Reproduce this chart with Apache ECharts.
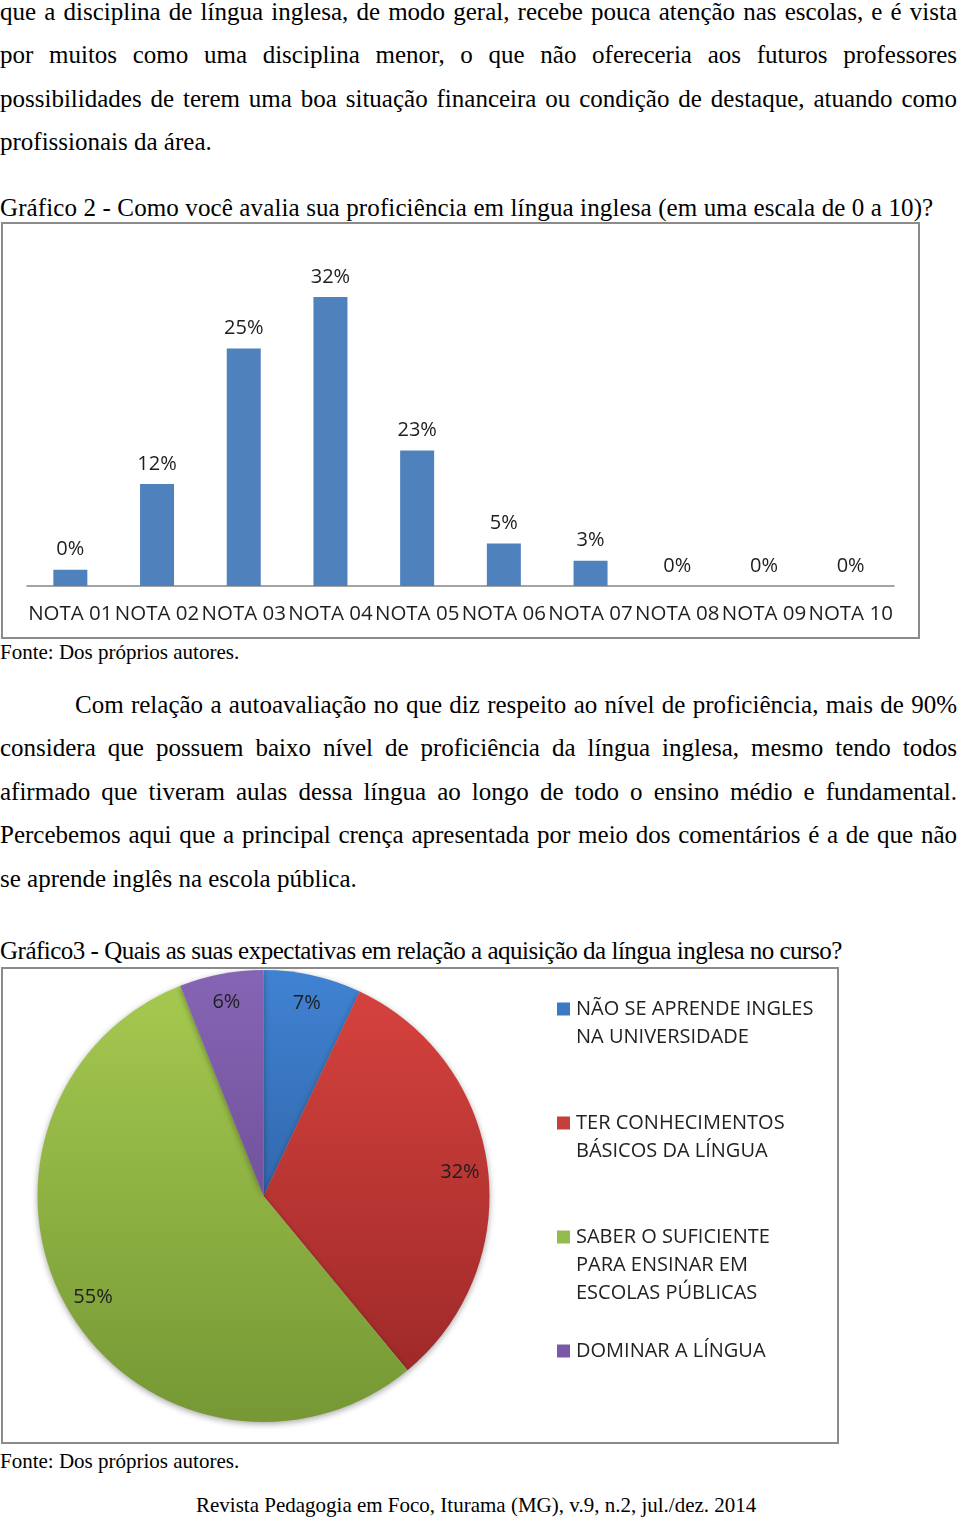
<!DOCTYPE html>
<html>
<head>
<meta charset="utf-8">
<script src="https://cdn.jsdelivr.net/npm/echarts@6/dist/echarts.min.js"></script>
<style>
html,body{margin:0;padding:0;background:#fff;}
#page{position:relative;width:960px;height:1519px;overflow:hidden;font-family:"Liberation Serif","Times New Roman","DejaVu Serif",serif;color:#000;}
.ln{position:absolute;left:0;white-space:nowrap;font-size:25px;line-height:25px;}
.j{width:957px;text-align:justify;text-align-last:justify;}
.sm{font-size:21px;line-height:21px;}
.box{position:absolute;border:2px solid #8b8b8b;box-sizing:border-box;background:#fff;}
.box > div{width:100%;height:100%;}
</style>
</head>
<body>
<div id="page">
  <div class="ln j" style="top:-1px">que a disciplina de língua inglesa, de modo geral, recebe pouca atenção nas escolas, e é vista</div>
  <div class="ln j" style="top:42px">por muitos como uma disciplina menor, o que não ofereceria aos futuros professores</div>
  <div class="ln j" style="top:86px">possibilidades de terem uma boa situação financeira ou condição de destaque, atuando como</div>
  <div class="ln" style="top:129px">profissionais da área.</div>

  <div class="ln" style="top:195px;letter-spacing:0.12px">Gráfico 2 - Como você avalia sua proficiência em língua inglesa (em uma escala de 0 a 10)?</div>
  <div class="box" style="left:1px;top:222px;width:919px;height:417px;"><div id="bar"></div></div>
  <div class="ln sm" style="top:642px">Fonte: Dos próprios autores.</div>

  <div class="ln j" style="top:692px;left:75px;width:882px;">Com relação a autoavaliação no que diz respeito ao nível de proficiência, mais de 90%</div>
  <div class="ln j" style="top:735px">considera que possuem baixo nível de proficiência da língua inglesa, mesmo tendo todos</div>
  <div class="ln j" style="top:779px">afirmado que tiveram aulas dessa língua ao longo de todo o ensino médio e fundamental.</div>
  <div class="ln j" style="top:822px">Percebemos aqui que a principal crença apresentada por meio dos comentários é a de que não</div>
  <div class="ln" style="top:866px">se aprende inglês na escola pública.</div>

  <div class="ln" style="top:938px;letter-spacing:-0.5px">Gráfico3 - Quais as suas expectativas em relação a aquisição da língua inglesa no curso?</div>
  <div class="box" style="left:1px;top:967px;width:838px;height:477px;"><div id="pie"></div></div>
  <div class="ln sm" style="top:1451px">Fonte: Dos próprios autores.</div>

  <div class="ln sm" style="top:1495px;left:196px">Revista Pedagogia em Foco, Iturama (MG), v.9, n.2, jul./dez. 2014</div>
</div>

<script>
// ---- Gráfico 2 data ----
var barCategories = ['NOTA 01','NOTA 02','NOTA 03','NOTA 04','NOTA 05','NOTA 06','NOTA 07','NOTA 08','NOTA 09','NOTA 10'];
var barHeights = [1.8, 11.3, 26.3, 32, 15.0, 4.7, 2.8, 0, 0, 0];
var barLabels = ['0%','12%','25%','32%','23%','5%','3%','0%','0%','0%'];

// ---- Gráfico 3 data ----
var pieCategories = ['NÃO SE APRENDE INGLES NA UNIVERSIDADE','TER CONHECIMENTOS BÁSICOS DA LÍNGUA','SABER O SUFICIENTE PARA ENSINAR EM ESCOLAS PÚBLICAS','DOMINAR A LÍNGUA'];
var pieLegendLines = [
  ['NÃO SE APRENDE INGLES','NA UNIVERSIDADE'],
  ['TER CONHECIMENTOS','BÁSICOS DA LÍNGUA'],
  ['SABER O SUFICIENTE','PARA ENSINAR EM','ESCOLAS PÚBLICAS'],
  ['DOMINAR A LÍNGUA']
];
var pieValues = [7, 32, 55, 6];

var FONT = '"Open Sans", "Noto Sans", sans-serif';

var bar = echarts.init(document.getElementById('bar'), null, {renderer:'canvas'});
bar.setOption({
  animation:false,
  textStyle:{fontFamily:FONT},
  grid:{left:24,right:24,top:46,bottom:51},
  xAxis:{
    type:'category',
    data:barCategories,
    axisLine:{lineStyle:{color:'#878787',width:1.5}},
    axisTick:{show:false},
    axisLabel:{interval:0,margin:18,fontSize:20.5,color:'#1e1e1e',fontFamily:FONT}
  },
  yAxis:{type:'value',min:0,max:35,show:false,splitLine:{show:false}},
  series:[{
    type:'bar',
    data:barHeights,
    barWidth:34,
    itemStyle:{color:'#4f81bd'},
    label:{show:true,position:'top',distance:10,fontSize:20,color:'#1e1e1e',fontFamily:FONT,
      formatter:function(p){return barLabels[p.dataIndex];}}
  }]
});

var pieColors = [
  ['#4082d2','#244e88'],
  ['#d8433f','#982726'],
  ['#a6ca50','#769835'],
  ['#8664b5','#5d4182']
];
var legendSolid = ['#3b78c6','#c73f3c','#95bb4c','#7a58a8'];
var lineH = 28, slots = 5, itemH = slots * lineH;

// Each legend entry is laid out in 5 text rows, the first real row sitting in the
// middle row so that the marker lines up with it (as in the original).
function legendText(lines){
  var rows = [' ', ' '].concat(lines);
  while (rows.length < slots) rows.push(' ');
  return rows.join('\n');
}

function grad(c){
  return {type:'linear',x:0,y:4,x2:0,y2:450,global:true,
    colorStops:[{offset:0,color:c[0]},{offset:1,color:c[1]}]};
}

var pie = echarts.init(document.getElementById('pie'), null, {renderer:'canvas'});
pie.setOption({
  animation:false,
  textStyle:{fontFamily:FONT},
  legend:{
    orient:'vertical',
    left:554, top:40 - itemH/2, height:700,
    padding:0,
    itemGap:114 - itemH,
    itemWidth:13, itemHeight:13,
    icon:'rect',
    selectedMode:false,
    formatter:function(name){return legendText(pieLegendLines[pieCategories.indexOf(name)]);},
    textStyle:{fontSize:20,lineHeight:lineH,color:'#222',fontFamily:FONT,padding:[0,0,0,1]},
    data:pieCategories.map(function(n,i){
      return {name:n, itemStyle:{color:legendSolid[i]}};
    })
  },
  series:[{
    type:'pie',
    center:[260.5,227],
    radius:[0,226],
    startAngle:90,
    clockwise:true,
    avoidLabelOverlap:false,
    label:{show:false},
    labelLine:{show:false},
    emphasis:{disabled:true},
    itemStyle:{shadowBlur:6,shadowColor:'rgba(0,0,0,0.35)',shadowOffsetY:2},
    data:pieCategories.map(function(n,i){return {name:n,value:pieValues[i],itemStyle:{color:grad(pieColors[i])}};})
  },{
    type:'pie',
    center:[260.5,228],
    radius:[164,226],
    startAngle:90,
    clockwise:true,
    silent:true,
    legendHoverLink:false,
    avoidLabelOverlap:false,
    emphasis:{disabled:true},
    itemStyle:{color:'rgba(0,0,0,0)'},
    labelLine:{show:false},
    label:{show:true,position:'inside',fontSize:20,color:'#1e1e1e',fontFamily:FONT,
      formatter:function(p){return pieValues[p.dataIndex] + '%';}},
    data:pieCategories.map(function(n,i){return {name:n,value:pieValues[i]};})
  }]
});
</script>
</body>
</html>
